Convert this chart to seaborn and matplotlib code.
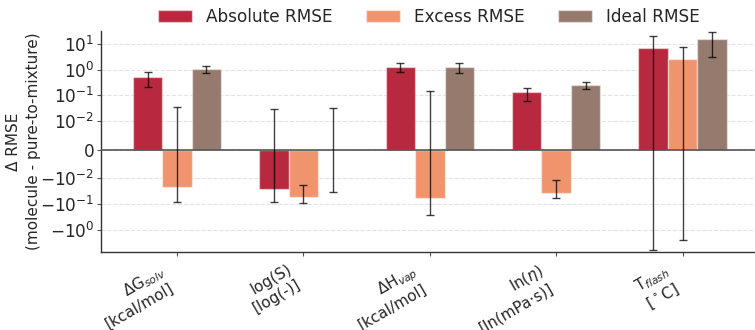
import numpy as np
import pandas as pd
import matplotlib
matplotlib.use("Agg")
import matplotlib.pyplot as plt
import seaborn as sns

# Properties on the x axis
properties = [
    "ΔG$_{solv}$\n[kcal/mol]",
    "log(S)\n[log(-)]",
    "ΔH$_{vap}$\n[kcal/mol]",
    "ln($\\eta$)\n[ln(mPa·s)]",
    "T$_{flash}$\n[$^\\circ$C]",
]
series_names = ["Absolute RMSE", "Excess RMSE", "Ideal RMSE"]

# Difference in RMSE (molecule model minus pure-to-mixture model)
absolute_rmse = [0.53, -0.027, 1.30, 0.13, 7.2]
excess_rmse = [-0.022, -0.053, -0.060, -0.036, 2.6]
ideal_rmse = [1.06, 0.0, 1.30, 0.26, 16.0]

# Uncertainties of the differences
absolute_err = [0.31, 0.057, 0.45, 0.067, 13.4]
excess_err = [0.059, 0.035, 0.205, 0.024, 5.1]
ideal_err = [0.30, 0.033, 0.58, 0.076, 13.0]

colors = ["#B8283E", "#F0946E", "#967A6E"]

values = [absolute_rmse, excess_rmse, ideal_rmse]
errors = [absolute_err, excess_err, ideal_err]

df = pd.DataFrame({
    "property": properties * 3,
    "kind": np.repeat(series_names, len(properties)),
    "value": absolute_rmse + excess_rmse + ideal_rmse,
})

sns.set_style("white")
plt.rcParams["font.family"] = ["DejaVu Sans"]

fig = plt.figure(figsize=(7.55, 3.30), dpi=100)
ax = fig.add_axes([0.134, 0.236, 0.868, 0.670])

group_width = 0.7
sns.barplot(data=df, x="property", y="value", hue="kind",
            palette=colors, saturation=1, width=group_width, ax=ax,
            edgecolor=(1, 1, 1, 0.45), linewidth=1.0, errorbar=None)

ax.set_yscale("symlog", linthresh=0.01)

# Error bars placed at each bar's centre
n = len(series_names)
bar_w = group_width / n
xs = np.arange(len(properties))
for k in range(n):
    ax.errorbar(xs + (k - (n - 1) / 2) * bar_w, values[k], yerr=errors[k],
                fmt="none", ecolor="black", elinewidth=1.0, capsize=3,
                capthick=1.0, alpha=0.75, zorder=5)

ax.axhline(0, color="#555555", lw=1.2, zorder=4)
ax.set_ylim(-7.5, 32)
ax.set_xlim(-0.6, 4.585)

ax.yaxis.grid(True, linestyle="--", color="#e3e3e3", lw=0.8)
ax.set_axisbelow(True)
ax.xaxis.grid(False)

for side in ["top", "right"]:
    ax.spines[side].set_visible(False)
for side in ["left", "bottom"]:
    ax.spines[side].set_color("#333333")
    ax.spines[side].set_linewidth(1.0)

ax.tick_params(axis="y", left=True, length=3, pad=2, color="#555555", labelsize=12.2)
ax.tick_params(axis="x", bottom=True, length=3, pad=4, color="#555555", labelsize=11)
plt.setp(ax.get_xticklabels(), rotation=30, ha="right")

ax.set_xlabel("")
ax.set_ylabel("Δ RMSE\n(molecule - pure-to-mixture)", fontsize=11, linespacing=1.4)
ax.yaxis.set_label_coords(-0.092, 0.5)

ax.legend(loc="center", bbox_to_anchor=(0.5, 1.065), ncol=3, frameon=False,
          fontsize=12.2, handlelength=2.0, handletextpad=0.8, columnspacing=2.0)

fig.savefig("out.png", dpi=100)
